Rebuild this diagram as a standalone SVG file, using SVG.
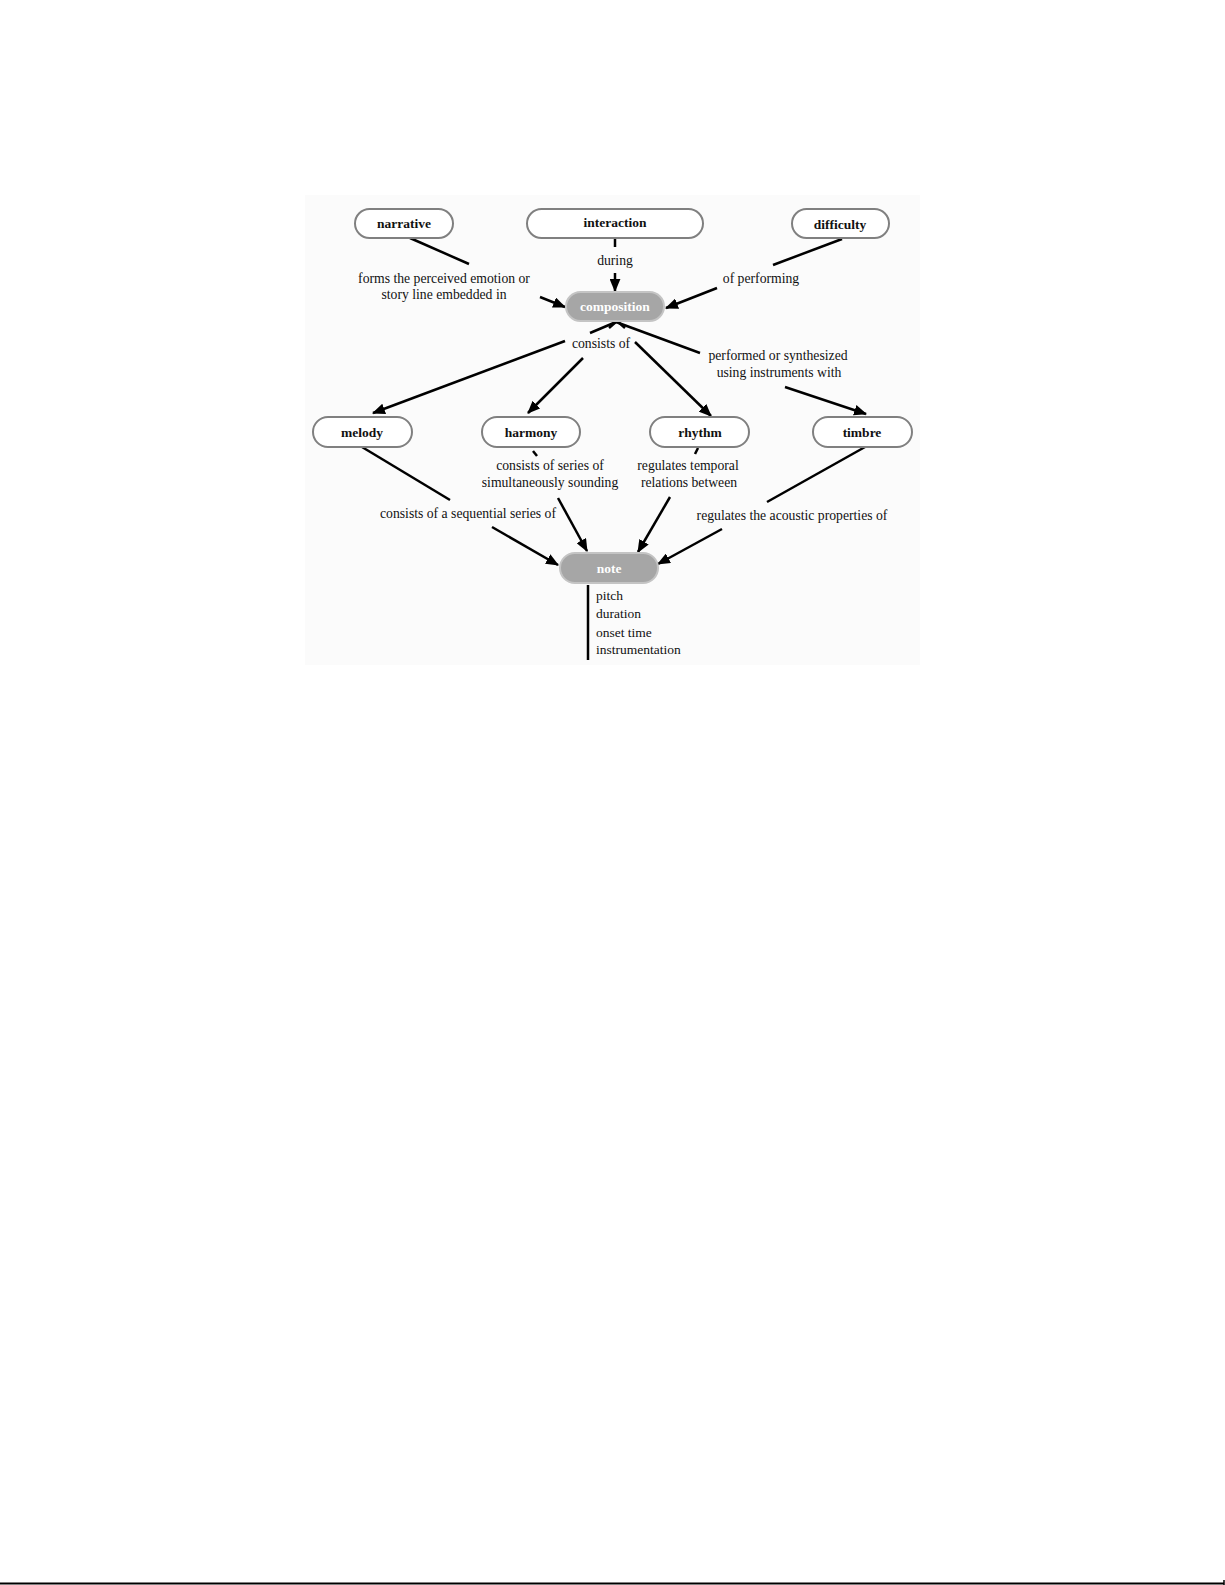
<svg xmlns="http://www.w3.org/2000/svg" width="1225" height="1585" viewBox="0 0 1225 1585">
<style>
.pill{fill:#ffffff;stroke:#808080;stroke-width:2}
.gpill{fill:#a6a6a6;stroke:#c4c4c4;stroke-width:2}
.nt{font-family:"Liberation Serif","Times New Roman",serif;font-size:13.5px;font-weight:bold;fill:#111;text-anchor:middle}
.wt{font-family:"Liberation Serif","Times New Roman",serif;font-size:13.5px;font-weight:bold;fill:#ffffff;text-anchor:middle}
.lb{font-family:"Liberation Serif","Times New Roman",serif;font-size:13.7px;fill:#111;text-anchor:middle}
.at{font-family:"Liberation Serif","Times New Roman",serif;font-size:13.5px;fill:#111}
.ln{stroke:#000;stroke-width:2.5;fill:none}
.ar{stroke:#000;stroke-width:2.5;fill:none;marker-end:url(#ah)}
</style>
<defs>
<marker id="ah" viewBox="0 0 12 10" refX="11" refY="5" markerWidth="13" markerHeight="11" markerUnits="userSpaceOnUse" orient="auto">
<path d="M0,0 L12,5 L0,10 z" fill="#000"/>
</marker>
</defs>
<rect x="0" y="0" width="1225" height="1585" fill="#ffffff"/>
<rect x="305" y="195" width="615" height="470" fill="#fbfbfb"/>

<g id="connectors">
<!-- narrative -> composition -->
<line class="ln" x1="410" y1="238" x2="469" y2="264"/>
<text class="lb" x="444" y="283">forms the perceived emotion or</text>
<text class="lb" x="444" y="299">story line embedded in</text>
<line class="ar" x1="540" y1="297" x2="565" y2="307"/>
<!-- interaction -> composition -->
<line class="ln" x1="615" y1="238" x2="615" y2="247"/>
<text class="lb" x="615" y="265">during</text>
<line class="ar" x1="615" y1="273" x2="615" y2="291"/>
<!-- difficulty -> composition -->
<line class="ln" x1="842" y1="239" x2="773" y2="265"/>
<text class="lb" x="761" y="283">of performing</text>
<line class="ar" x1="717" y1="288" x2="666" y2="308"/>
<!-- composition -> consists of -->
<line class="ln" x1="616" y1="322" x2="590" y2="333"/>
<polyline class="ln" points="609,328 617,321 625,328"/>
<text class="lb" x="601" y="348">consists of</text>
<line class="ar" x1="565" y1="341" x2="373" y2="413"/>
<line class="ar" x1="583" y1="358" x2="528" y2="413"/>
<line class="ar" x1="635" y1="342" x2="711" y2="416"/>
<!-- composition -> timbre -->
<line class="ln" x1="616" y1="322" x2="700" y2="353"/>
<text class="lb" x="778" y="360">performed or synthesized</text>
<text class="lb" x="779" y="377">using instruments with</text>
<line class="ar" x1="785" y1="387" x2="866" y2="414"/>
<!-- melody -> note -->
<line class="ln" x1="362" y1="447" x2="450" y2="500"/>
<text class="lb" x="468" y="518">consists of a sequential series of</text>
<line class="ar" x1="492" y1="527" x2="558" y2="565"/>
<!-- harmony -> note -->
<line class="ln" x1="533" y1="451" x2="537" y2="456"/>
<text class="lb" x="550" y="470">consists of series of</text>
<text class="lb" x="550" y="487">simultaneously sounding</text>
<line class="ar" x1="558" y1="498" x2="587" y2="551"/>
<!-- rhythm -> note -->
<line class="ln" x1="698" y1="448" x2="695" y2="454"/>
<text class="lb" x="688" y="470">regulates temporal</text>
<text class="lb" x="689" y="487">relations between</text>
<line class="ar" x1="670" y1="497" x2="638" y2="552"/>
<!-- timbre -> note -->
<line class="ln" x1="865" y1="447" x2="767" y2="502"/>
<text class="lb" x="792" y="520">regulates the acoustic properties of</text>
<line class="ar" x1="722" y1="529" x2="658" y2="564"/>
<!-- note attributes -->
<line class="ln" x1="588" y1="585" x2="588" y2="660"/>
</g>

<g id="narrative"><rect class="pill" x="355" y="209" width="98" height="29" rx="14.5"/><text class="nt" x="404" y="228">narrative</text></g>
<g id="interaction"><rect class="pill" x="527" y="209" width="176" height="29" rx="14.5"/><text class="nt" x="615" y="227">interaction</text></g>
<g id="difficulty"><rect class="pill" x="792" y="209" width="97" height="29" rx="14.5"/><text class="nt" x="840" y="229">difficulty</text></g>
<g id="composition"><rect class="gpill" x="566" y="292" width="98" height="29" rx="14.5"/><text class="wt" x="615" y="311">composition</text></g>
<g id="melody"><rect class="pill" x="313" y="417" width="99" height="30" rx="15"/><text class="nt" x="362" y="437">melody</text></g>
<g id="harmony"><rect class="pill" x="482" y="417" width="98" height="30" rx="15"/><text class="nt" x="531" y="437">harmony</text></g>
<g id="rhythm"><rect class="pill" x="650" y="417" width="99" height="30" rx="15"/><text class="nt" x="700" y="437">rhythm</text></g>
<g id="timbre"><rect class="pill" x="813" y="417" width="99" height="30" rx="15"/><text class="nt" x="862" y="437">timbre</text></g>
<g id="note"><rect class="gpill" x="560" y="553" width="98" height="30" rx="15"/><text class="wt" x="609" y="573">note</text>
<text class="at" x="596" y="600">pitch</text>
<text class="at" x="596" y="618">duration</text>
<text class="at" x="596" y="637">onset time</text>
<text class="at" x="596" y="654">instrumentation</text>
</g>

<line x1="0" y1="1583.5" x2="1224" y2="1583.5" stroke="#000" stroke-width="2"/>
<line x1="1224" y1="1580" x2="1224" y2="1585" stroke="#000" stroke-width="1.5"/>
</svg>
